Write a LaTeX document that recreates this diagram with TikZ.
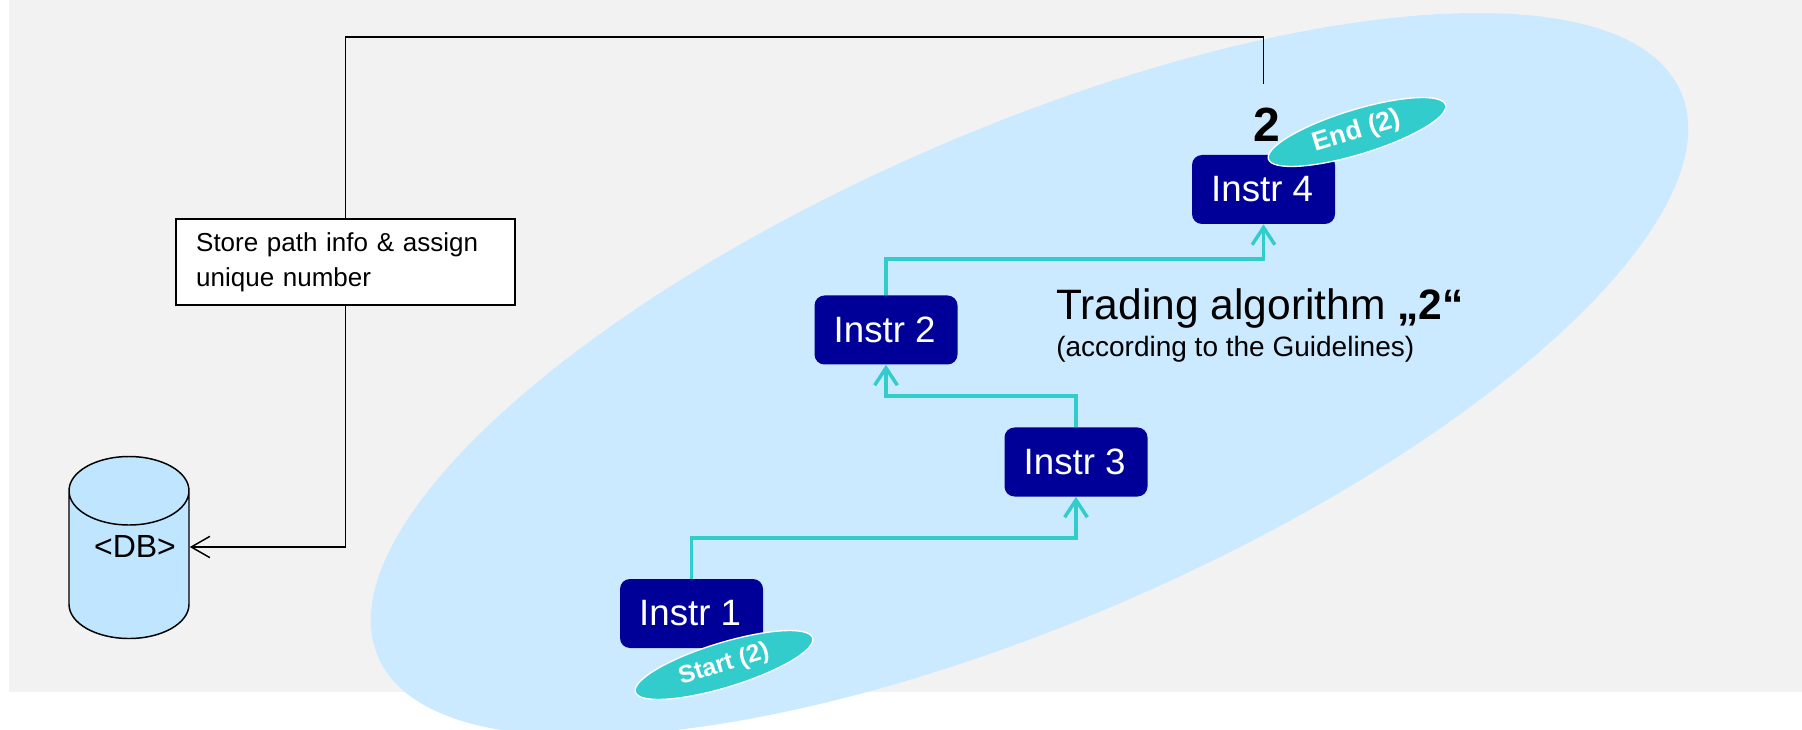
\documentclass[tikz,border=0pt]{standalone}
\usepackage{fontspec}
\setmainfont{Liberation Sans}
\usetikzlibrary{arrows.meta,shapes.geometric}

\definecolor{panelgray}{HTML}{F2F2F2}
\definecolor{algoblue}{HTML}{CCEAFF}
\definecolor{dbblue}{HTML}{BFE5FF}
\definecolor{instrnavy}{HTML}{000099}
\definecolor{pathteal}{HTML}{33CCCC}

\tikzset{
  instr/.style={fill=instrnavy, text=white, rounded corners=7.5pt, inner sep=0pt,
    minimum width=107.25pt, minimum height=51.75pt, font=\fontsize{27.5}{32}\selectfont,
    execute at end node={\hspace*{2pt}}},
  tag/.style={ellipse, fill=pathteal, draw=white, line width=1pt, inner sep=0pt, rotate=17,
    minimum width=139pt, minimum height=33.4pt, text=white},
  tealpath/.style={draw=pathteal, line width=2.6pt, -{Straight Barb[length=13pt,width=17pt]}},
  blackpath/.style={draw=black, line width=1.1pt}
}

\begin{document}
\begin{tikzpicture}[x=0.75pt,y=-0.75pt]

        \useasboundingbox (0,0) rectangle (1802,730);
        \fill[panelgray] (9,0) rectangle (1802,692);

        \node[ellipse, fill=algoblue, inner sep=0pt, rotate=23.45,
          minimum width=1065pt, minimum height=368.7pt] (algo) at (1029.5,374.5) {};

        \node[cylinder, shape border rotate=90, shape aspect=0.73, draw=black, fill=dbblue,
          line width=1.1pt, inner sep=0pt, minimum width=90pt, minimum height=136.5pt,
          font=\fontsize{24}{28}\selectfont] (db) at (129,565) {\hspace*{9pt}\raisebox{5.5pt}[0pt][0pt]{<DB>}};

        \node[draw=black, fill=white, line width=1.1pt, inner xsep=15pt, inner ysep=0pt,
          text width=224pt, minimum height=64.5pt, align=left,
          font=\fontsize{19.5}{26}\selectfont] (store) at (345.5,262)
          {Store path info \& assign\\unique number};

        \begin{scope}[every node/.style={instr}]
          \node (1) at (691.5,613.5) {Instr 1};
          \node (2) at (886,330) {Instr 2};
          \node (3) at (1076,462) {Instr 3};
          \node (4) at (1263.5,189.5) {Instr 4};
        \end{scope}

        \node[tag, font=\fontsize{18.5}{22}\bfseries\selectfont] (start) at (724,665) {Start (2)};
        \node[tag, font=\fontsize{20}{24}\bfseries\selectfont] (end) at (1357,132) {End (2)};

        \node[font=\fontsize{36}{40}\bfseries\selectfont, inner sep=0pt] (num) at (1267,125) {2};

        \node[anchor=base west, inner sep=0pt, font=\fontsize{31.9}{36}\selectfont] (title) at (1056,320)
          {Trading algorithm \textbf{„2“}};
        \node[anchor=base west, inner sep=0pt, font=\fontsize{21}{25}\selectfont] (subtitle) at (1056,357)
          {(according to the Guidelines)};

        \coordinate (c13) at (1076,538);
        \coordinate (c32) at (886,396);
        \coordinate (c24) at (1263.5,259);
        \coordinate (out) at (1263.5,84);
        \coordinate (top) at (345.5,37);

        \path[tealpath] (1) |- (c13) -- (3);
        \path[tealpath] (3) |- (c32) -- (2);
        \path[tealpath] (2) |- (c24) -- (4);

        \path[blackpath] (out) |- (top) -- (store);
        \path[blackpath, -{Straight Barb[length=14pt,width=16pt]}] (store) |- ([yshift=13.5pt]db.east);

      \end{tikzpicture}
\end{document}
